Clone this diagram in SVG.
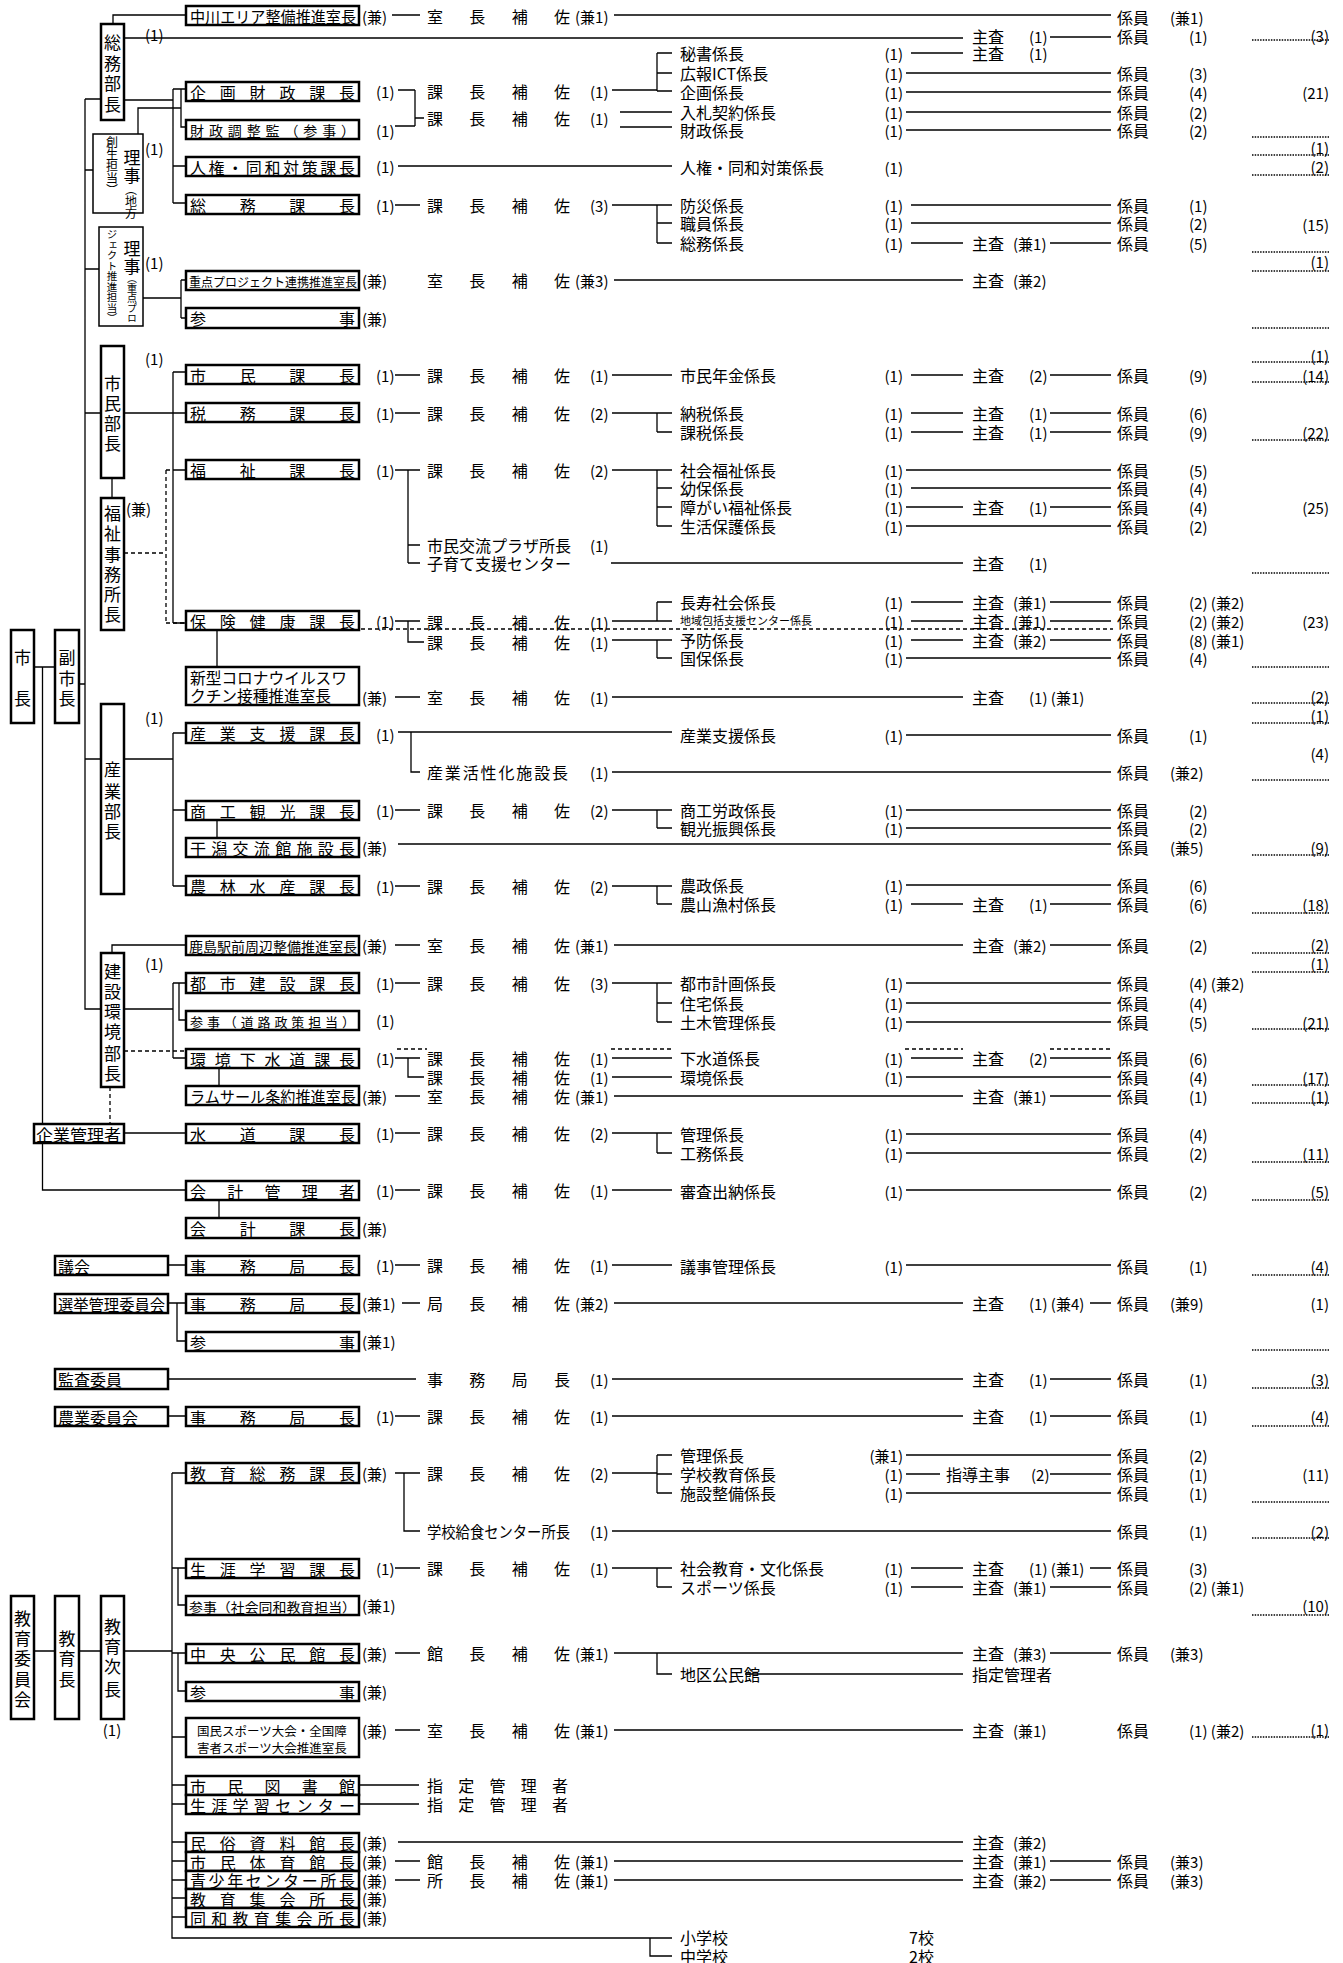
<svg xmlns="http://www.w3.org/2000/svg" width="1343" height="1963" viewBox="0 0 1343 1963">
<style>
text{font-family:"Noto Sans CJK JP","Noto Sans CJK SC",sans-serif;font-size:16px;fill:#000;dominant-baseline:central}
.s{font-size:15px}
.m{text-anchor:middle}
.e{text-anchor:end}
.v{font-size:17px;text-anchor:middle}
.b{fill:#fff;stroke:#000;stroke-width:2.5}
.bt{fill:#fff;stroke:#000;stroke-width:1.5}
.l{stroke:#000;stroke-width:1.3;fill:none}
.d{stroke:#000;stroke-width:1.3;fill:none;stroke-dasharray:4 3}
.o{stroke:#000;stroke-width:1.6;fill:none;stroke-dasharray:1.5 1.2}
</style>
<rect width="1343" height="1963" fill="#fff"/>
<g id="connectors">
<path class="l" d="M34 667H55M79 684H85M42.5 667V1190H186M85 99V1009H101M85 99H101M85 170H93M85 269H99M85 413H101M85 759H101M113 24V15H186M124 38H963M124 100H173M173 89V203M173 89H186M173 166H186M173 203H186M181 89V127H186M138 134V108H181M143 298H181M181 280V318M181 280H186M181 318H186"/>
<path class="l" d="M124 413H173M173 372V623M173 372H186M173 413H186M173 470H186M173 623H186M112 478V498M217 630V667M124 759H173M173 733V886M173 733H186M173 810H186M173 886H186M217 820V838M112 953V945H186M124 1009H173M173 983V1058M173 983H186M173 1058H186M179 983V1020H186M219 1068V1086M124 1133H186M219 1200V1218M168 1265H186M168 1303H186M177 1303V1341H186M168 1379H416M168 1416H186"/>
<path class="l" d="M34 1651H55M79 1651H101M124 1651H172M172 1473V1938H672M172 1473H186M172 1568H186M172 1653H186M172 1737H186M172 1785H186M172 1804H186M172 1842H186M172 1861H186M172 1880H186M172 1898H186M172 1917H186M178 1568V1605H186M178 1653V1691H186M650 1938V1956H672"/>
<path class="d" d="M124 553H166M166 470V623M166 470H173M166 623H186M124 1051H186M110 1087V1124M361 629H1113M397 1049H427M611 1049H672M905 1049H963M1050 1049H1111"/>
<path class="l" d="M392 15H420M614 15H1111M1050 37H1111M398 90H415M415 90V126M415 118H424M395 126H415M612 90H657M657 53V91M657 53H672M657 73H672M657 91H672M620 112H672M620 127H672M911 53H963M906 73H1111M906 92H1111M906 112H1111M906 130H1111M398 166H672"/>
<path class="l" d="M395 205H420M612 205H657M657 205V243M657 205H672M657 223H672M657 243H672M911 205H1111M911 223H1111M911 243H963M1050 243H1111M614 280H963"/>
<path class="l" d="M395 375H420M612 375H672M911 375H963M1050 375H1111M395 413H420M612 413H657M657 413V432M657 413H672M657 432H672M911 413H963M1050 413H1111M911 432H963M1050 432H1111"/>
<path class="l" d="M395 470H420M408 470V563M408 545H420M408 563H420M612 470H657M657 470V526M657 470H672M657 488H672M657 507H672M657 526H672M906 470H1111M911 488H1111M906 507H963M1050 507H1111M906 526H1111M611 563H963"/>
<path class="l" d="M395 621H420M408 621V642H424M612 621H657M657 602V621M657 602H672M657 621H672M612 640H657M657 640V658M657 640H672M657 658H672M911 602H963M1050 602H1111M911 621H963M1050 621H1111M911 640H963M1050 640H1111M906 658H1111M395 697H420M612 697H963"/>
<path class="l" d="M398 732H672M411 732V772H420M906 735H1111M612 772H1111M395 810H420M612 810H657M657 810V828M657 810H672M657 828H672M906 810H1111M906 828H1111M398 844H1111M395 886H420M612 886H657M657 886V904M657 886H672M657 904H672M906 885H1111M911 904H963M1050 904H1111M395 945H420M614 945H963M1050 945H1111"/>
<path class="l" d="M395 983H420M612 983H657M657 983V1022M657 983H672M657 1003H672M657 1022H672M906 983H1111M906 1003H1111M906 1022H1111M395 1058H420M408 1058V1077H424M612 1058H672M612 1077H672M911 1058H963M1050 1058H1111M906 1077H1111M395 1096H420M614 1096H963M1050 1096H1111"/>
<path class="l" d="M395 1133H420M612 1133H657M657 1133V1153M657 1133H672M657 1153H672M906 1134H1111M906 1153H1111M395 1190H420M612 1190H672M906 1190H1111M395 1265H420M612 1265H672M906 1265H1111M402 1303H420M614 1303H963M1090 1303H1111M612 1379H963M1050 1379H1111M395 1416H420M612 1416H963M1050 1416H1111"/>
<path class="l" d="M395 1473H420M404 1473V1531H420M612 1473H657M657 1455V1493M657 1455H672M657 1474H672M657 1493H672M906 1455H1111M906 1474H940M1050 1474H1111M906 1493H1111M612 1531H1111M395 1568H420M612 1568H657M657 1568V1587M657 1568H672M657 1587H672M911 1568H963M1090 1568H1111M911 1587H963M1050 1587H1111"/>
<path class="l" d="M395 1653H420M614 1653H963M1050 1653H1111M657 1653V1674H672M745 1674H963M395 1730H420M614 1730H963M359 1785H419M359 1804H419M398 1842H963M395 1861H420M614 1861H963M1050 1861H1111M395 1880H420M614 1880H963M1050 1880H1111"/>
<path class="o" d="M1252 40H1329M1252 137H1329M1252 155H1329M1252 175H1329M1252 252H1329M1252 271H1329M1252 328H1329M1252 362H1329M1252 382H1329M1252 440H1329M1252 573H1329M1252 667H1329M1252 703H1329M1252 723H1329M1252 780H1329M1252 855H1329M1252 913H1329M1252 953H1329M1252 972H1329M1252 1029H1329M1252 1085H1329M1252 1103H1329M1252 1162H1329M1252 1200H1329M1252 1275H1329M1252 1350H1329M1252 1388H1329M1252 1426H1329M1252 1502H1329M1252 1538H1329M1252 1615H1329M1252 1737H1329"/>
</g>
<g id="n-mayor"><rect class="b" x="11" y="630" width="23" height="93"/><text class="v" x="22.5"><tspan x="22.5" y="656">市</tspan><tspan x="22.5" y="697">長</tspan></text></g>
<g id="n-vicemayor"><rect class="b" x="55" y="630" width="24" height="93"/><text class="v" x="67"><tspan x="67" y="656">副</tspan><tspan x="67" y="677">市</tspan><tspan x="67" y="697">長</tspan></text></g>
<g id="n-somubucho"><rect class="b" x="101" y="24" width="23" height="96"/><text class="v"><tspan x="112.5" y="41">総</tspan><tspan x="112.5" y="62">務</tspan><tspan x="112.5" y="82">部</tspan><tspan x="112.5" y="103">長</tspan></text><text class="s" x="145" y="34">(1)</text></g>
<g id="n-riji1"><rect class="bt" x="93" y="134" width="50" height="79"/><text class="v"><tspan x="132" y="156">理</tspan><tspan x="132" y="174">事</tspan></text><text writing-mode="vertical-rl" x="131" y="183" style="font-size:12px">（地方</text><text writing-mode="vertical-rl" x="112" y="136" style="font-size:12px">創生担当）</text><text class="s" x="145" y="148">(1)</text></g>
<g id="n-riji2"><rect class="bt" x="99" y="227" width="44" height="99"/><text class="v"><tspan x="132" y="247">理</tspan><tspan x="132" y="265">事</tspan></text><text writing-mode="vertical-rl" x="132" y="273" style="font-size:10px">（重点プロ</text><text writing-mode="vertical-rl" x="112" y="229" style="font-size:10.5px">ジェクト推進担当）</text><text class="s" x="145" y="262">(1)</text></g>
<g id="n-shiminbucho"><rect class="b" x="101" y="346" width="23" height="132"/><text class="v"><tspan x="112.5" y="382">市</tspan><tspan x="112.5" y="402">民</tspan><tspan x="112.5" y="422">部</tspan><tspan x="112.5" y="442">長</tspan></text><text class="s" x="145" y="358">(1)</text></g>
<g id="n-fukushijimusho"><rect class="b" x="101" y="498" width="23" height="132"/><text class="v"><tspan x="112.5" y="512">福</tspan><tspan x="112.5" y="532">祉</tspan><tspan x="112.5" y="553">事</tspan><tspan x="112.5" y="573">務</tspan><tspan x="112.5" y="593">所</tspan><tspan x="112.5" y="613">長</tspan></text><text class="s" x="126" y="508">(兼)</text></g>
<g id="n-sangyobucho"><rect class="b" x="101" y="704" width="23" height="190"/><text class="v"><tspan x="112.5" y="768">産</tspan><tspan x="112.5" y="790">業</tspan><tspan x="112.5" y="810">部</tspan><tspan x="112.5" y="830">長</tspan></text><text class="s" x="145" y="717">(1)</text></g>
<g id="n-kensetsubucho"><rect class="b" x="101" y="953" width="23" height="134"/><text class="v"><tspan x="112.5" y="970">建</tspan><tspan x="112.5" y="990">設</tspan><tspan x="112.5" y="1010">環</tspan><tspan x="112.5" y="1030">境</tspan><tspan x="112.5" y="1052">部</tspan><tspan x="112.5" y="1072">長</tspan></text><text class="s" x="145" y="963">(1)</text></g>
<g id="n-kigyo"><rect class="b" x="34" y="1124" width="90" height="19"/><text x="36" y="1134" textLength="85" lengthAdjust="spacingAndGlyphs">企業管理者</text></g>
<g id="n-gikai"><rect class="b" x="55" y="1256" width="113" height="19"/><text x="58" y="1266">議会</text></g>
<g id="n-senkyo"><rect class="b" x="55" y="1294" width="113" height="19"/><text x="58" y="1304" textLength="107" lengthAdjust="spacingAndGlyphs">選挙管理委員会</text></g>
<g id="n-kansa"><rect class="b" x="55" y="1369" width="113" height="20"/><text x="58" y="1379">監査委員</text></g>
<g id="n-nogyo"><rect class="b" x="55" y="1407" width="113" height="19"/><text x="58" y="1417">農業委員会</text></g>
<g id="n-kyoikuiinkai"><rect class="b" x="11" y="1596" width="23" height="123"/><text class="v"><tspan x="22.5" y="1617">教</tspan><tspan x="22.5" y="1637">育</tspan><tspan x="22.5" y="1657">委</tspan><tspan x="22.5" y="1678">員</tspan><tspan x="22.5" y="1698">会</tspan></text></g>
<g id="n-kyoikucho"><rect class="b" x="55" y="1596" width="24" height="123"/><text class="v"><tspan x="67" y="1637">教</tspan><tspan x="67" y="1657">育</tspan><tspan x="67" y="1678">長</tspan></text></g>
<g id="n-kyoikujicho"><rect class="b" x="101" y="1596" width="23" height="123"/><text class="v"><tspan x="112.5" y="1625">教</tspan><tspan x="112.5" y="1645">育</tspan><tspan x="112.5" y="1665">次</tspan><tspan x="112.5" y="1688">長</tspan></text><text class="s m" x="112" y="1729">(1)</text></g>

<g id="n-nakagawa"><rect class="b" x="186" y="6" width="173" height="19"/><text x="190" y="16" textLength="166" lengthAdjust="spacingAndGlyphs">中川エリア整備推進室長</text><text class="s" x="362" y="16">(兼)</text><text x="427" y="16" textLength="143">室長補佐</text><text class="s" x="575" y="16">(兼1)</text><text x="1117" y="17">係員</text><text class="s" x="1170" y="17">(兼1)</text></g>
<g id="r-somu-shusa"><text x="972" y="36">主査</text><text class="s" x="1029" y="36">(1)</text><text x="1117" y="36">係員</text><text class="s" x="1189" y="36">(1)</text><text class="s e" x="1329" y="35">(3)</text></g>
<g id="n-kikakuzaisei"><rect class="b" x="186" y="82" width="173" height="19"/><text x="190" y="92" textLength="165" lengthAdjust="spacing">企画財政課長</text><text class="s" x="376" y="91">(1)</text><text x="427" y="91" textLength="143">課長補佐</text><text class="s" x="590" y="91">(1)</text><text x="427" y="118" textLength="143">課長補佐</text><text class="s" x="590" y="118">(1)</text></g>
<g id="n-zaiseichosei"><rect class="b" x="186" y="120" width="173" height="19"/><text x="190" y="130" textLength="165" lengthAdjust="spacing" style="font-size:14px">財政調整監（参事）</text><text class="s" x="376" y="130">(1)</text></g>
<g id="r-kikaku"><text x="680" y="53">秘書係長</text><text class="s e" x="903" y="53">(1)</text><text x="972" y="53">主査</text><text class="s" x="1029" y="53">(1)</text>
<text x="680" y="73">広報ICT係長</text><text class="s e" x="903" y="73">(1)</text><text x="1117" y="73">係員</text><text class="s" x="1189" y="73">(3)</text>
<text x="680" y="92">企画係長</text><text class="s e" x="903" y="92">(1)</text><text x="1117" y="92">係員</text><text class="s" x="1189" y="92">(4)</text><text class="s e" x="1329" y="92">(21)</text>
<text x="680" y="112">入札契約係長</text><text class="s e" x="903" y="112">(1)</text><text x="1117" y="112">係員</text><text class="s" x="1189" y="112">(2)</text>
<text x="680" y="130">財政係長</text><text class="s e" x="903" y="130">(1)</text><text x="1117" y="130">係員</text><text class="s" x="1189" y="130">(2)</text><text class="s e" x="1329" y="147">(1)</text></g>
<g id="n-jinken"><rect class="b" x="186" y="157" width="173" height="19"/><text x="190" y="167" textLength="165" lengthAdjust="spacing">人権・同和対策課長</text><text class="s" x="376" y="166">(1)</text><text x="680" y="167">人権・同和対策係長</text><text class="s e" x="903" y="167">(1)</text><text class="s e" x="1329" y="166">(2)</text></g>
<g id="n-somuka"><rect class="b" x="186" y="195" width="173" height="19"/><text x="190" y="205" textLength="165" lengthAdjust="spacing">総務課長</text><text class="s" x="376" y="205">(1)</text><text x="427" y="205" textLength="143">課長補佐</text><text class="s" x="590" y="205">(3)</text>
<text x="680" y="205">防災係長</text><text class="s e" x="903" y="205">(1)</text><text x="1117" y="205">係員</text><text class="s" x="1189" y="205">(1)</text>
<text x="680" y="223">職員係長</text><text class="s e" x="903" y="223">(1)</text><text x="1117" y="223">係員</text><text class="s" x="1189" y="223">(2)</text><text class="s e" x="1329" y="224">(15)</text>
<text x="680" y="243">総務係長</text><text class="s e" x="903" y="243">(1)</text><text x="972" y="243">主査</text><text class="s" x="1013" y="243">(兼1)</text><text x="1117" y="243">係員</text><text class="s" x="1189" y="243">(5)</text><text class="s e" x="1329" y="261">(1)</text></g>
<g id="n-juten"><rect class="b" x="186" y="271" width="173" height="19"/><text x="189" y="281" textLength="168" lengthAdjust="spacingAndGlyphs" style="font-size:12.5px">重点プロジェクト連携推進室長</text><text class="s" x="362" y="280">(兼)</text><text x="427" y="280" textLength="143">室長補佐</text><text class="s" x="575" y="280">(兼3)</text><text x="972" y="280">主査</text><text class="s" x="1013" y="280">(兼2)</text></g>
<g id="n-sanji1"><rect class="b" x="186" y="308" width="173" height="20"/><text x="190" y="318" textLength="165" lengthAdjust="spacing">参事</text><text class="s" x="362" y="318">(兼)</text></g>

<g id="n-shiminka"><rect class="b" x="186" y="365" width="173" height="19"/><text x="190" y="375" textLength="165" lengthAdjust="spacing">市民課長</text><text class="s" x="376" y="375">(1)</text><text x="427" y="375" textLength="143">課長補佐</text><text class="s" x="590" y="375">(1)</text><text x="680" y="375">市民年金係長</text><text class="s e" x="903" y="375">(1)</text><text x="972" y="375">主査</text><text class="s" x="1029" y="375">(2)</text><text x="1117" y="375">係員</text><text class="s" x="1189" y="375">(9)</text><text class="s e" x="1329" y="355">(1)</text><text class="s e" x="1329" y="375">(14)</text></g>
<g id="n-zeimu"><rect class="b" x="186" y="403" width="173" height="19"/><text x="190" y="413" textLength="165" lengthAdjust="spacing">税務課長</text><text class="s" x="376" y="413">(1)</text><text x="427" y="413" textLength="143">課長補佐</text><text class="s" x="590" y="413">(2)</text>
<text x="680" y="413">納税係長</text><text class="s e" x="903" y="413">(1)</text><text x="972" y="413">主査</text><text class="s" x="1029" y="413">(1)</text><text x="1117" y="413">係員</text><text class="s" x="1189" y="413">(6)</text>
<text x="680" y="432">課税係長</text><text class="s e" x="903" y="432">(1)</text><text x="972" y="432">主査</text><text class="s" x="1029" y="432">(1)</text><text x="1117" y="432">係員</text><text class="s" x="1189" y="432">(9)</text><text class="s e" x="1329" y="432">(22)</text></g>
<g id="n-fukushi"><rect class="b" x="186" y="460" width="173" height="19"/><text x="190" y="470" textLength="165" lengthAdjust="spacing">福祉課長</text><text class="s" x="376" y="470">(1)</text><text x="427" y="470" textLength="143">課長補佐</text><text class="s" x="590" y="470">(2)</text>
<text x="680" y="470">社会福祉係長</text><text class="s e" x="903" y="470">(1)</text><text x="1117" y="470">係員</text><text class="s" x="1189" y="470">(5)</text>
<text x="680" y="488">幼保係長</text><text class="s e" x="903" y="488">(1)</text><text x="1117" y="488">係員</text><text class="s" x="1189" y="488">(4)</text>
<text x="680" y="507">障がい福祉係長</text><text class="s e" x="903" y="507">(1)</text><text x="972" y="507">主査</text><text class="s" x="1029" y="507">(1)</text><text x="1117" y="507">係員</text><text class="s" x="1189" y="507">(4)</text><text class="s e" x="1329" y="507">(25)</text>
<text x="680" y="526">生活保護係長</text><text class="s e" x="903" y="526">(1)</text><text x="1117" y="526">係員</text><text class="s" x="1189" y="526">(2)</text>
<text x="427" y="545">市民交流プラザ所長</text><text class="s" x="590" y="545">(1)</text><text x="427" y="563">子育て支援センター</text><text x="972" y="563">主査</text><text class="s" x="1029" y="563">(1)</text></g>
<g id="n-hoken"><rect class="b" x="186" y="611" width="173" height="19"/><text x="190" y="621" textLength="165" lengthAdjust="spacing">保険健康課長</text><text class="s" x="376" y="621">(1)</text><text x="427" y="622" textLength="143">課長補佐</text><text class="s" x="590" y="622">(1)</text><text x="427" y="642" textLength="143">課長補佐</text><text class="s" x="590" y="642">(1)</text>
<text x="680" y="602">長寿社会係長</text><text class="s e" x="903" y="602">(1)</text><text x="972" y="602">主査</text><text class="s" x="1013" y="602">(兼1)</text><text x="1117" y="602">係員</text><text class="s" x="1189" y="602">(2) (兼2)</text>
<text x="680" y="620" style="font-size:11px">地域包括支援センター係長</text><text class="s e" x="903" y="621">(1)</text><text x="972" y="621">主査</text><text class="s" x="1013" y="621">(兼1)</text><text x="1117" y="621">係員</text><text class="s" x="1189" y="621">(2) (兼2)</text><text class="s e" x="1329" y="621">(23)</text>
<text x="680" y="640">予防係長</text><text class="s e" x="903" y="640">(1)</text><text x="972" y="640">主査</text><text class="s" x="1013" y="640">(兼2)</text><text x="1117" y="640">係員</text><text class="s" x="1189" y="640">(8) (兼1)</text>
<text x="680" y="658">国保係長</text><text class="s e" x="903" y="658">(1)</text><text x="1117" y="658">係員</text><text class="s" x="1189" y="658">(4)</text></g>
<g id="n-corona"><rect class="b" x="186" y="667" width="173" height="38"/><text x="190" y="677" textLength="157" lengthAdjust="spacingAndGlyphs">新型コロナウイルスワ</text><text x="190" y="695" textLength="141" lengthAdjust="spacingAndGlyphs">クチン接種推進室長</text><text class="s" x="362" y="697">(兼)</text><text x="427" y="697" textLength="143">室長補佐</text><text class="s" x="590" y="697">(1)</text><text x="972" y="697">主査</text><text class="s" x="1029" y="697">(1) (兼1)</text><text class="s e" x="1329" y="696">(2)</text><text class="s e" x="1329" y="715">(1)</text></g>

<g id="n-sangyoshien"><rect class="b" x="186" y="723" width="173" height="20"/><text x="190" y="733" textLength="165" lengthAdjust="spacing">産業支援課長</text><text class="s" x="376" y="734">(1)</text><text x="680" y="735">産業支援係長</text><text class="s e" x="903" y="735">(1)</text><text x="1117" y="735">係員</text><text class="s" x="1189" y="735">(1)</text><text class="s e" x="1329" y="753">(4)</text>
<text x="427" y="772" textLength="141">産業活性化施設長</text><text class="s" x="590" y="772">(1)</text><text x="1117" y="772">係員</text><text class="s" x="1170" y="772">(兼2)</text></g>
<g id="n-shoko"><rect class="b" x="186" y="801" width="173" height="19"/><text x="190" y="811" textLength="165" lengthAdjust="spacing">商工観光課長</text><text class="s" x="376" y="810">(1)</text><text x="427" y="810" textLength="143">課長補佐</text><text class="s" x="590" y="810">(2)</text>
<text x="680" y="810">商工労政係長</text><text class="s e" x="903" y="810">(1)</text><text x="1117" y="810">係員</text><text class="s" x="1189" y="810">(2)</text>
<text x="680" y="828">観光振興係長</text><text class="s e" x="903" y="828">(1)</text><text x="1117" y="828">係員</text><text class="s" x="1189" y="828">(2)</text></g>
<g id="n-higata"><rect class="b" x="186" y="838" width="173" height="19"/><text x="190" y="848" textLength="165" lengthAdjust="spacing">干潟交流館施設長</text><text class="s" x="362" y="847">(兼)</text><text x="1117" y="847">係員</text><text class="s" x="1170" y="847">(兼5)</text><text class="s e" x="1329" y="847">(9)</text></g>
<g id="n-norin"><rect class="b" x="186" y="876" width="173" height="19"/><text x="190" y="886" textLength="165" lengthAdjust="spacing">農林水産課長</text><text class="s" x="376" y="886">(1)</text><text x="427" y="886" textLength="143">課長補佐</text><text class="s" x="590" y="886">(2)</text>
<text x="680" y="885">農政係長</text><text class="s e" x="903" y="885">(1)</text><text x="1117" y="885">係員</text><text class="s" x="1189" y="885">(6)</text>
<text x="680" y="904">農山漁村係長</text><text class="s e" x="903" y="904">(1)</text><text x="972" y="904">主査</text><text class="s" x="1029" y="904">(1)</text><text x="1117" y="904">係員</text><text class="s" x="1189" y="904">(6)</text><text class="s e" x="1329" y="904">(18)</text></g>
<g id="n-kashima"><rect class="b" x="186" y="936" width="173" height="19"/><text x="189" y="946" textLength="168" lengthAdjust="spacingAndGlyphs" style="font-size:13.5px">鹿島駅前周辺整備推進室長</text><text class="s" x="362" y="945">(兼)</text><text x="427" y="945" textLength="143">室長補佐</text><text class="s" x="575" y="945">(兼1)</text><text x="972" y="945">主査</text><text class="s" x="1013" y="945">(兼2)</text><text x="1117" y="945">係員</text><text class="s" x="1189" y="945">(2)</text><text class="s e" x="1329" y="944">(2)</text><text class="s e" x="1329" y="963">(1)</text></g>

<g id="n-toshi"><rect class="b" x="186" y="973" width="173" height="20"/><text x="190" y="983" textLength="165" lengthAdjust="spacing">都市建設課長</text><text class="s" x="376" y="983">(1)</text><text x="427" y="983" textLength="143">課長補佐</text><text class="s" x="590" y="983">(3)</text>
<text x="680" y="983">都市計画係長</text><text class="s e" x="903" y="983">(1)</text><text x="1117" y="983">係員</text><text class="s" x="1189" y="983">(4) (兼2)</text>
<text x="680" y="1003">住宅係長</text><text class="s e" x="903" y="1003">(1)</text><text x="1117" y="1003">係員</text><text class="s" x="1189" y="1003">(4)</text>
<text x="680" y="1022">土木管理係長</text><text class="s e" x="903" y="1022">(1)</text><text x="1117" y="1022">係員</text><text class="s" x="1189" y="1022">(5)</text><text class="s e" x="1329" y="1022">(21)</text></g>
<g id="n-sanji-doro"><rect class="b" x="186" y="1011" width="173" height="19"/><text x="190" y="1021" textLength="165" lengthAdjust="spacing" style="font-size:13px">参事（道路政策担当）</text><text class="s" x="376" y="1020">(1)</text></g>
<g id="n-kankyo"><rect class="b" x="186" y="1049" width="173" height="19"/><text x="190" y="1059" textLength="165" lengthAdjust="spacing">環境下水道課長</text><text class="s" x="376" y="1058">(1)</text><text x="427" y="1058" textLength="143">課長補佐</text><text class="s" x="590" y="1058">(1)</text><text x="427" y="1077" textLength="143">課長補佐</text><text class="s" x="590" y="1077">(1)</text>
<text x="680" y="1058">下水道係長</text><text class="s e" x="903" y="1058">(1)</text><text x="972" y="1058">主査</text><text class="s" x="1029" y="1058">(2)</text><text x="1117" y="1058">係員</text><text class="s" x="1189" y="1058">(6)</text>
<text x="680" y="1077">環境係長</text><text class="s e" x="903" y="1077">(1)</text><text x="1117" y="1077">係員</text><text class="s" x="1189" y="1077">(4)</text><text class="s e" x="1329" y="1077">(17)</text></g>
<g id="n-ramsar"><rect class="b" x="186" y="1086" width="173" height="19"/><text x="190" y="1096" textLength="166" lengthAdjust="spacingAndGlyphs">ラムサール条約推進室長</text><text class="s" x="362" y="1096">(兼)</text><text x="427" y="1096" textLength="143">室長補佐</text><text class="s" x="575" y="1096">(兼1)</text><text x="972" y="1096">主査</text><text class="s" x="1013" y="1096">(兼1)</text><text x="1117" y="1096">係員</text><text class="s" x="1189" y="1096">(1)</text><text class="s e" x="1329" y="1096">(1)</text></g>
<g id="n-suido"><rect class="b" x="186" y="1124" width="173" height="19"/><text x="190" y="1134" textLength="165" lengthAdjust="spacing">水道課長</text><text class="s" x="376" y="1133">(1)</text><text x="427" y="1133" textLength="143">課長補佐</text><text class="s" x="590" y="1133">(2)</text>
<text x="680" y="1134">管理係長</text><text class="s e" x="903" y="1134">(1)</text><text x="1117" y="1134">係員</text><text class="s" x="1189" y="1134">(4)</text>
<text x="680" y="1153">工務係長</text><text class="s e" x="903" y="1153">(1)</text><text x="1117" y="1153">係員</text><text class="s" x="1189" y="1153">(2)</text><text class="s e" x="1329" y="1153">(11)</text></g>
<g id="n-kaikeikanri"><rect class="b" x="186" y="1181" width="173" height="19"/><text x="190" y="1191" textLength="165" lengthAdjust="spacing">会計管理者</text><text class="s" x="376" y="1190">(1)</text><text x="427" y="1190" textLength="143">課長補佐</text><text class="s" x="590" y="1190">(1)</text><text x="680" y="1191">審査出納係長</text><text class="s e" x="903" y="1191">(1)</text><text x="1117" y="1191">係員</text><text class="s" x="1189" y="1191">(2)</text><text class="s e" x="1329" y="1191">(5)</text></g>
<g id="n-kaikeika"><rect class="b" x="186" y="1218" width="173" height="20"/><text x="190" y="1228" textLength="165" lengthAdjust="spacing">会計課長</text><text class="s" x="362" y="1228">(兼)</text></g>
<g id="n-gikai-jimu"><rect class="b" x="186" y="1256" width="173" height="19"/><text x="190" y="1266" textLength="165" lengthAdjust="spacing">事務局長</text><text class="s" x="376" y="1265">(1)</text><text x="427" y="1265" textLength="143">課長補佐</text><text class="s" x="590" y="1265">(1)</text><text x="680" y="1266">議事管理係長</text><text class="s e" x="903" y="1266">(1)</text><text x="1117" y="1266">係員</text><text class="s" x="1189" y="1266">(1)</text><text class="s e" x="1329" y="1266">(4)</text></g>
<g id="n-senkyo-jimu"><rect class="b" x="186" y="1294" width="173" height="19"/><text x="190" y="1304" textLength="165" lengthAdjust="spacing">事務局長</text><text class="s" x="362" y="1303">(兼1)</text><text x="427" y="1303" textLength="143">局長補佐</text><text class="s" x="575" y="1303">(兼2)</text><text x="972" y="1303">主査</text><text class="s" x="1029" y="1303">(1) (兼4)</text><text x="1117" y="1303">係員</text><text class="s" x="1170" y="1303">(兼9)</text><text class="s e" x="1329" y="1303">(1)</text></g>
<g id="n-senkyo-sanji"><rect class="b" x="186" y="1332" width="173" height="19"/><text x="190" y="1342" textLength="165" lengthAdjust="spacing">参事</text><text class="s" x="362" y="1341">(兼1)</text></g>
<g id="r-kansa"><text x="427" y="1379" textLength="143">事務局長</text><text class="s" x="590" y="1379">(1)</text><text x="972" y="1379">主査</text><text class="s" x="1029" y="1379">(1)</text><text x="1117" y="1379">係員</text><text class="s" x="1189" y="1379">(1)</text><text class="s e" x="1329" y="1379">(3)</text></g>
<g id="n-nogyo-jimu"><rect class="b" x="186" y="1407" width="173" height="19"/><text x="190" y="1417" textLength="165" lengthAdjust="spacing">事務局長</text><text class="s" x="376" y="1416">(1)</text><text x="427" y="1416" textLength="143">課長補佐</text><text class="s" x="590" y="1416">(1)</text><text x="972" y="1416">主査</text><text class="s" x="1029" y="1416">(1)</text><text x="1117" y="1416">係員</text><text class="s" x="1189" y="1416">(1)</text><text class="s e" x="1329" y="1416">(4)</text></g>

<g id="n-kyoikusomu"><rect class="b" x="186" y="1463" width="173" height="20"/><text x="190" y="1473" textLength="165" lengthAdjust="spacing">教育総務課長</text><text class="s" x="362" y="1473">(兼)</text><text x="427" y="1473" textLength="143">課長補佐</text><text class="s" x="590" y="1473">(2)</text>
<text x="680" y="1455">管理係長</text><text class="s e" x="903" y="1455">(兼1)</text><text x="1117" y="1455">係員</text><text class="s" x="1189" y="1455">(2)</text>
<text x="680" y="1474">学校教育係長</text><text class="s e" x="903" y="1474">(1)</text><text x="946" y="1474">指導主事</text><text class="s" x="1031" y="1474">(2)</text><text x="1117" y="1474">係員</text><text class="s" x="1189" y="1474">(1)</text><text class="s e" x="1329" y="1474">(11)</text>
<text x="680" y="1493">施設整備係長</text><text class="s e" x="903" y="1493">(1)</text><text x="1117" y="1493">係員</text><text class="s" x="1189" y="1493">(1)</text>
<text x="427" y="1531" textLength="143" lengthAdjust="spacingAndGlyphs">学校給食センター所長</text><text class="s" x="590" y="1531">(1)</text><text x="1117" y="1531">係員</text><text class="s" x="1189" y="1531">(1)</text><text class="s e" x="1329" y="1531">(2)</text></g>
<g id="n-shogaigakushu"><rect class="b" x="186" y="1559" width="173" height="19"/><text x="190" y="1569" textLength="165" lengthAdjust="spacing">生涯学習課長</text><text class="s" x="376" y="1568">(1)</text><text x="427" y="1568" textLength="143">課長補佐</text><text class="s" x="590" y="1568">(1)</text>
<text x="680" y="1568">社会教育・文化係長</text><text class="s e" x="903" y="1568">(1)</text><text x="972" y="1568">主査</text><text class="s" x="1029" y="1568">(1) (兼1)</text><text x="1117" y="1568">係員</text><text class="s" x="1189" y="1568">(3)</text>
<text x="680" y="1587">スポーツ係長</text><text class="s e" x="903" y="1587">(1)</text><text x="972" y="1587">主査</text><text class="s" x="1013" y="1587">(兼1)</text><text x="1117" y="1587">係員</text><text class="s" x="1189" y="1587">(2) (兼1)</text><text class="s e" x="1329" y="1605">(10)</text></g>
<g id="n-sanji-dowa"><rect class="b" x="186" y="1596" width="173" height="19"/><text x="189" y="1606" textLength="167" lengthAdjust="spacingAndGlyphs" style="font-size:13px">参事（社会同和教育担当）</text><text class="s" x="362" y="1605">(兼1)</text></g>
<g id="n-chuokominkan"><rect class="b" x="186" y="1644" width="173" height="19"/><text x="190" y="1654" textLength="165" lengthAdjust="spacing">中央公民館長</text><text class="s" x="362" y="1653">(兼)</text><text x="427" y="1653" textLength="143">館長補佐</text><text class="s" x="575" y="1653">(兼1)</text><text x="972" y="1653">主査</text><text class="s" x="1013" y="1653">(兼3)</text><text x="1117" y="1653">係員</text><text class="s" x="1170" y="1653">(兼3)</text><text x="680" y="1674">地区公民館</text><text x="972" y="1674">指定管理者</text></g>
<g id="n-kyoiku-sanji"><rect class="b" x="186" y="1682" width="173" height="19"/><text x="190" y="1692" textLength="165" lengthAdjust="spacing">参事</text><text class="s" x="362" y="1691">(兼)</text></g>
<g id="n-kokumin"><rect class="b" x="186" y="1718" width="173" height="39"/><text class="m" x="272" y="1730" style="font-size:12.5px">国民スポーツ大会・全国障</text><text class="m" x="272" y="1747" style="font-size:12.5px">害者スポーツ大会推進室長</text><text class="s" x="362" y="1730">(兼)</text><text x="427" y="1730" textLength="143">室長補佐</text><text class="s" x="575" y="1730">(兼1)</text><text x="972" y="1730">主査</text><text class="s" x="1013" y="1730">(兼1)</text><text x="1117" y="1730">係員</text><text class="s" x="1189" y="1730">(1) (兼2)</text><text class="s e" x="1329" y="1729">(1)</text></g>
<g id="n-toshokan"><rect class="b" x="186" y="1776" width="173" height="19"/><text x="190" y="1786" textLength="165" lengthAdjust="spacing">市民図書館</text><text x="427" y="1785" textLength="141">指定管理者</text></g>
<g id="n-shogaicenter"><rect class="b" x="186" y="1795" width="173" height="19"/><text x="190" y="1805" textLength="165" lengthAdjust="spacing">生涯学習センター</text><text x="427" y="1804" textLength="141">指定管理者</text></g>
<g id="n-minzoku"><rect class="b" x="186" y="1833" width="173" height="19"/><text x="190" y="1843" textLength="165" lengthAdjust="spacing">民俗資料館長</text><text class="s" x="362" y="1842">(兼)</text><text x="972" y="1842">主査</text><text class="s" x="1013" y="1842">(兼2)</text></g>
<g id="n-taiikukan"><rect class="b" x="186" y="1852" width="173" height="19"/><text x="190" y="1862" textLength="165" lengthAdjust="spacing">市民体育館長</text><text class="s" x="362" y="1861">(兼)</text><text x="427" y="1861" textLength="143">館長補佐</text><text class="s" x="575" y="1861">(兼1)</text><text x="972" y="1861">主査</text><text class="s" x="1013" y="1861">(兼1)</text><text x="1117" y="1861">係員</text><text class="s" x="1170" y="1861">(兼3)</text></g>
<g id="n-seishonen"><rect class="b" x="186" y="1871" width="173" height="18"/><text x="190" y="1880" textLength="165" lengthAdjust="spacing">青少年センター所長</text><text class="s" x="362" y="1880">(兼)</text><text x="427" y="1880" textLength="143">所長補佐</text><text class="s" x="575" y="1880">(兼1)</text><text x="972" y="1880">主査</text><text class="s" x="1013" y="1880">(兼2)</text><text x="1117" y="1880">係員</text><text class="s" x="1170" y="1880">(兼3)</text></g>
<g id="n-kyoikushukai"><rect class="b" x="186" y="1889" width="173" height="19"/><text x="190" y="1899" textLength="165" lengthAdjust="spacing">教育集会所長</text><text class="s" x="362" y="1898">(兼)</text></g>
<g id="n-dowashukai"><rect class="b" x="186" y="1908" width="173" height="19"/><text x="190" y="1918" textLength="165" lengthAdjust="spacing">同和教育集会所長</text><text class="s" x="362" y="1917">(兼)</text></g>
<g id="r-gakko"><text x="680" y="1937">小学校</text><text x="909" y="1937">7校</text><text x="680" y="1956">中学校</text><text x="909" y="1956">2校</text></g>
</svg>
